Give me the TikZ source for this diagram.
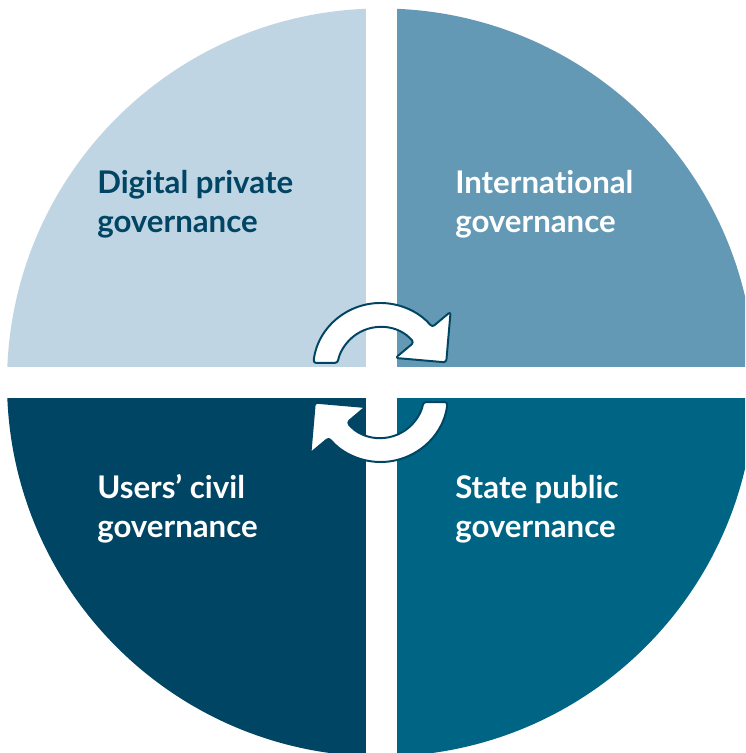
\documentclass[tikz,border=0pt]{standalone}
\usepackage{fontspec}
\setsansfont{Lato}[Ligatures={NoCommon}]
\definecolor{paleBlue} {HTML}{C0D5E3}
\definecolor{midBlue}  {HTML}{6399B4}
\definecolor{deepBlue} {HTML}{004563}
\definecolor{tealBlue} {HTML}{006584}
\tikzset{
  font=\sffamily\bfseries\fontsize{22.2}{28.4}\selectfont,
  quadtext/.style={align=left,anchor=base west,inner sep=0pt},
  cyclearrow/.style={fill=white,draw=deepBlue,line width=1.4pt,rounded corners=2pt,line join=round},
}

\begin{document}
\begin{tikzpicture}[x=0.025cm,y=0.025cm]
\useasboundingbox (0,0) rectangle (745,753);

% four quarters of the disc, split by white bands
\begin{scope}
\clip (0,0) rectangle (745,753);
\clip (381,370.5) circle[radius=374];
\fill[paleBlue] (0,386)     rectangle (365.5,760);
\fill[midBlue]  (396.5,386) rectangle (760,760);
\fill[deepBlue] (0,-10)     rectangle (365.5,355);
\fill[tealBlue] (396.5,-10) rectangle (760,355);
\end{scope}

% base anchor sits on the second line
\node[quadtext,text=deepBlue] (digital) at (97,520)  {Digital private\\governance};
\node[quadtext,text=white]    (intl)    at (455,520) {International\\governance};
\node[quadtext,text=white]    (users)   at (97,215)  {Users' civil\\governance};
\node[quadtext,text=white]    (state)   at (455,215) {State public\\governance};

% the two turning arrows in the middle
\begin{scope}[shift={(380.5,370.5)}]
\foreach \turn in {0,180}{
  \begin{scope}[rotate=\turn,shift={(0,12)}]
  \draw[cyclearrow] (173.6:67.5) arc[start angle=173.6,end angle=40,radius=67.5]
    -- (40:91.5) -- (65.7,8.1) -- (40:19.5) -- (40:43.5)
    arc[start angle=40,end angle=170,radius=43.5] -- cycle;
  \end{scope}
}
\end{scope}

\end{tikzpicture}
\end{document}
